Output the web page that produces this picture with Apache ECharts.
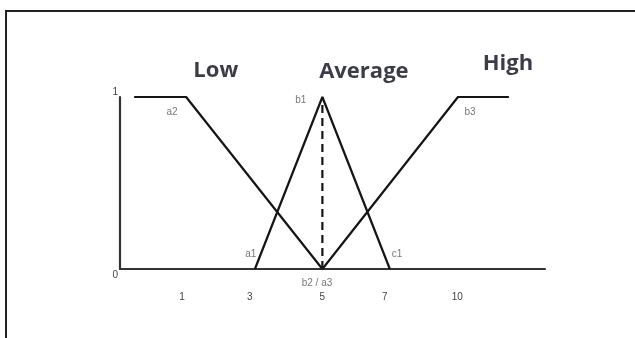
<!DOCTYPE html>
<html>
<head>
<meta charset="utf-8">
<script src="https://cdn.jsdelivr.net/npm/echarts@6/dist/echarts.min.js"></script>
<style>
  html, body { margin: 0; padding: 0; background: #fff; }
  #chart { width: 635px; height: 338px; }
</style>
</head>
<body>
<div id="chart"></div>
<script>
// membership functions (x in axis units, y = degree of membership)
const lowX = [-0.58, 0.96, 5];
const lowY = [1, 1, 0];
const avgX = [3, 5, 7];
const avgY = [0, 1, 0];
const highX = [5, 9.02, 10.53];
const highY = [0, 1, 1];
const peakX = [5, 5];
const peakY = [0, 1];

// x tick labels and where they sit on the axis
const xTickPos = [0.84, 2.85, 5, 6.85, 9];
const xTickLabels = ['1', '3', '5', '7', '10'];
const yTickPos = [0, 1];

// point names
const ptNames = ['a2', 'b1', 'a1', 'b2 / a3', 'c1', 'b3'];
const ptX = [0.54, 4.36, 2.88, 4.84, 7.21, 9.38];
const ptY = [0.913, 0.983, 0.087, -0.081, 0.087, 0.913];

// set names
const setNames = ['Low', 'Average', 'High'];
const setX = [1.84, 6.23, 10.5];
const setY = [1.151, 1.145, 1.192];

const zip = (xs, ys) => xs.map((x, i) => [x, ys[i]]);

const chart = echarts.init(document.getElementById('chart'));

const lineBase = {
  type: 'line',
  symbol: 'none',
  silent: true,
  lineStyle: { color: '#151515', width: 2.2 }
};

const option = {
  animation: false,
  backgroundColor: '#fff',
  graphic: [
    {
      type: 'rect',
      shape: { x: 6, y: 11, width: 700, height: 400 },
      style: { fill: 'none', stroke: '#222', lineWidth: 2 },
      silent: true
    }
  ],
  grid: { left: 120, right: 90, top: 97, bottom: 69 },
  xAxis: {
    type: 'value',
    min: -1,
    max: 11.6,
    splitLine: { show: false },
    axisTick: { show: false },
    axisLine: { show: true, onZero: false, lineStyle: { color: '#333', width: 2.2 } },
    axisLabel: {
      customValues: xTickPos,
      margin: 23,
      color: '#444',
      fontSize: 10,
      fontFamily: 'Liberation Sans',
      formatter: v => xTickLabels[xTickPos.indexOf(v)]
    }
  },
  yAxis: {
    type: 'value',
    min: 0,
    max: 1,
    splitLine: { show: false },
    axisTick: { show: false },
    axisLine: { show: true, onZero: false, lineStyle: { color: '#333', width: 2.2 } },
    axisLabel: {
      customValues: yTickPos,
      margin: 2,
      color: '#444',
      fontSize: 10,
      fontFamily: 'Liberation Sans',
      formatter: v => (v === 1 ? '{top|1}' : '{bot|0}'),
      rich: {
        top: { padding: [0, 0, 10, 0], color: '#444', fontSize: 10 },
        bot: { padding: [12, 0, 0, 0], color: '#444', fontSize: 10 }
      }
    }
  },
  series: [
    Object.assign({}, lineBase, { name: 'Low', data: zip(lowX, lowY) }),
    Object.assign({}, lineBase, { name: 'Average', data: zip(avgX, avgY) }),
    Object.assign({}, lineBase, { name: 'High', data: zip(highX, highY) }),
    Object.assign({}, lineBase, {
      name: 'peak',
      data: zip(peakX, peakY),
      lineStyle: { color: '#151515', width: 2.2, type: [8, 5] }
    }),
    {
      type: 'scatter',
      silent: true,
      clip: false,
      symbolSize: 1,
      itemStyle: { color: 'transparent' },
      data: ptNames.map((n, i) => ({ name: n, value: [ptX[i], ptY[i]] })),
      label: {
        show: true,
        position: 'inside',
        formatter: p => p.name,
        color: '#555',
        fontSize: 10,
        fontFamily: 'Liberation Sans'
      }
    },
    {
      type: 'scatter',
      silent: true,
      clip: false,
      symbolSize: 1,
      itemStyle: { color: 'transparent' },
      data: setNames.map((n, i) => ({ name: n, value: [setX[i], setY[i]] })),
      label: {
        show: true,
        position: 'inside',
        formatter: p => p.name,
        color: '#0b0b1c',
        fontSize: 22,
        fontWeight: 'bold',
        fontFamily: 'Open Sans'
      }
    }
  ]
};

chart.setOption(option);
</script>
</body>
</html>
